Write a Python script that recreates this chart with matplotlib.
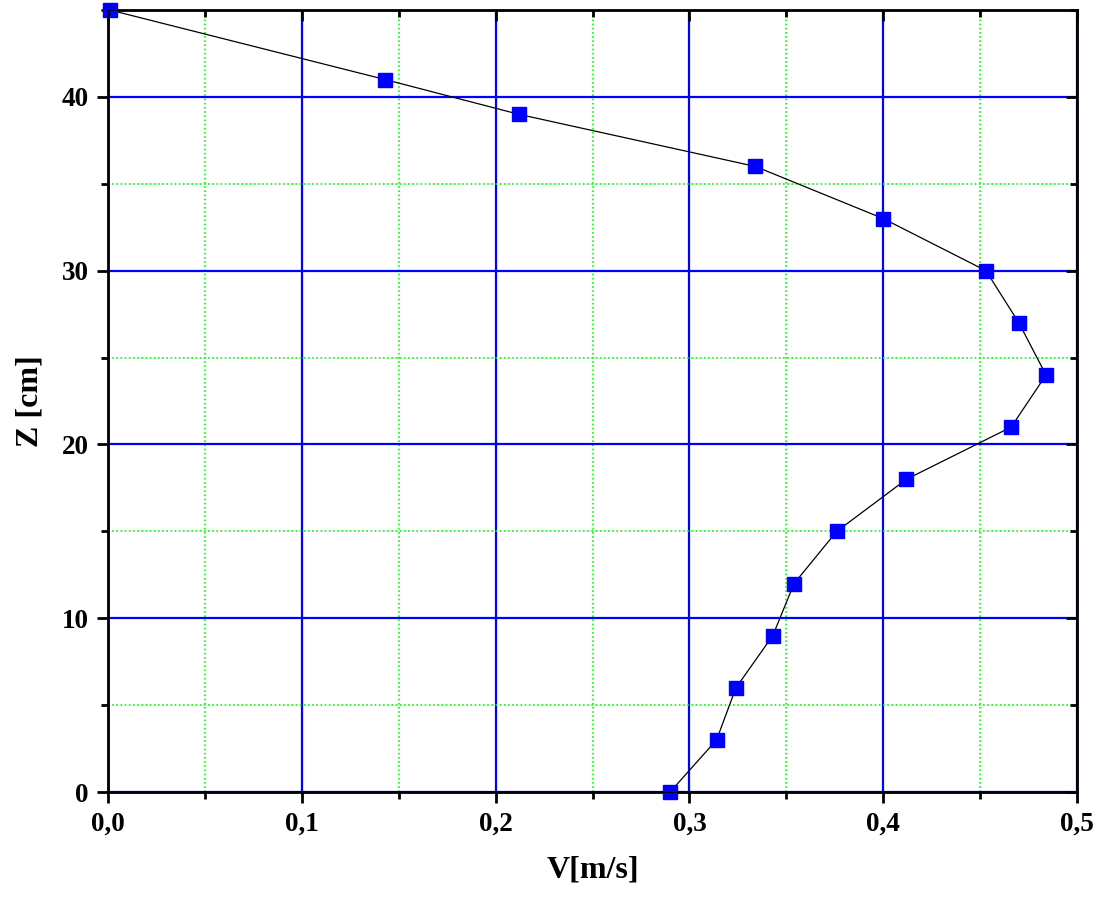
import numpy as np
import matplotlib.pyplot as plt
from matplotlib.ticker import MultipleLocator, FuncFormatter

plt.rcParams['font.family'] = ['Liberation Serif', 'DejaVu Serif']

# velocity profile
z_cm = [45, 41, 39, 36, 33, 30, 27, 24, 21, 18, 15, 12, 9, 6, 3, 0]
v_ms = [0.001, 0.143, 0.212, 0.334, 0.400, 0.453, 0.470, 0.484, 0.466,
        0.412, 0.376, 0.354, 0.343, 0.324, 0.314, 0.290]

fig = plt.figure(figsize=(10.97, 8.97), dpi=100)
ax = fig.add_axes([0.0985, 0.117, 0.8833, 0.8718])

ax.plot(v_ms, z_cm, color='black', lw=0.9, marker='s', markersize=9.5,
        markerfacecolor='#0000ff', markeredgecolor='#0000ff', zorder=5,
        clip_on=False)

ax.set_xlim(0, 0.5)
ax.set_ylim(0, 45)

ax.xaxis.set_major_locator(MultipleLocator(0.1))
ax.xaxis.set_minor_locator(MultipleLocator(0.05))
ax.yaxis.set_major_locator(MultipleLocator(10))
ax.yaxis.set_minor_locator(MultipleLocator(5))
ax.xaxis.set_major_formatter(FuncFormatter(lambda v, p: ('%.1f' % v).replace('.', ',')))

ax.grid(which='major', color='#0000ff', lw=1.6, ls='-')
ax.grid(which='minor', color='#00ff00', lw=1.2, ls=(0, (1, 1.5)))
ax.set_axisbelow(True)

for s in ax.spines.values():
    s.set_linewidth(2)

ax.tick_params(which='both', direction='out', width=2, labelsize=19.5, pad=6)
ax.tick_params(which='major', length=8)
ax.tick_params(which='minor', length=5)

# inward ticks on the top and right sides
ax2 = ax.twinx()
ax2.set_ylim(ax.get_ylim())
ax2.yaxis.set_major_locator(MultipleLocator(10))
ax2.yaxis.set_minor_locator(MultipleLocator(5))
ax2.tick_params(which='both', direction='in', width=2, labelright=False)
ax2.tick_params(which='major', length=8)
ax2.tick_params(which='minor', length=5)
ax3 = ax.twiny()
ax3.set_xlim(ax.get_xlim())
ax3.xaxis.set_major_locator(MultipleLocator(0.1))
ax3.xaxis.set_minor_locator(MultipleLocator(0.05))
ax3.tick_params(which='both', direction='in', width=2, labeltop=False)
ax3.tick_params(which='major', length=8)
ax3.tick_params(which='minor', length=5)

for lab in ax.get_xticklabels() + ax.get_yticklabels():
    lab.set_fontweight('bold')

ax.set_xlabel('V[m/s]', fontsize=23, fontweight='bold', labelpad=14)
ax.set_ylabel('Z [cm]', fontsize=23, fontweight='bold', labelpad=12)

fig.savefig('out.png', dpi=100)
